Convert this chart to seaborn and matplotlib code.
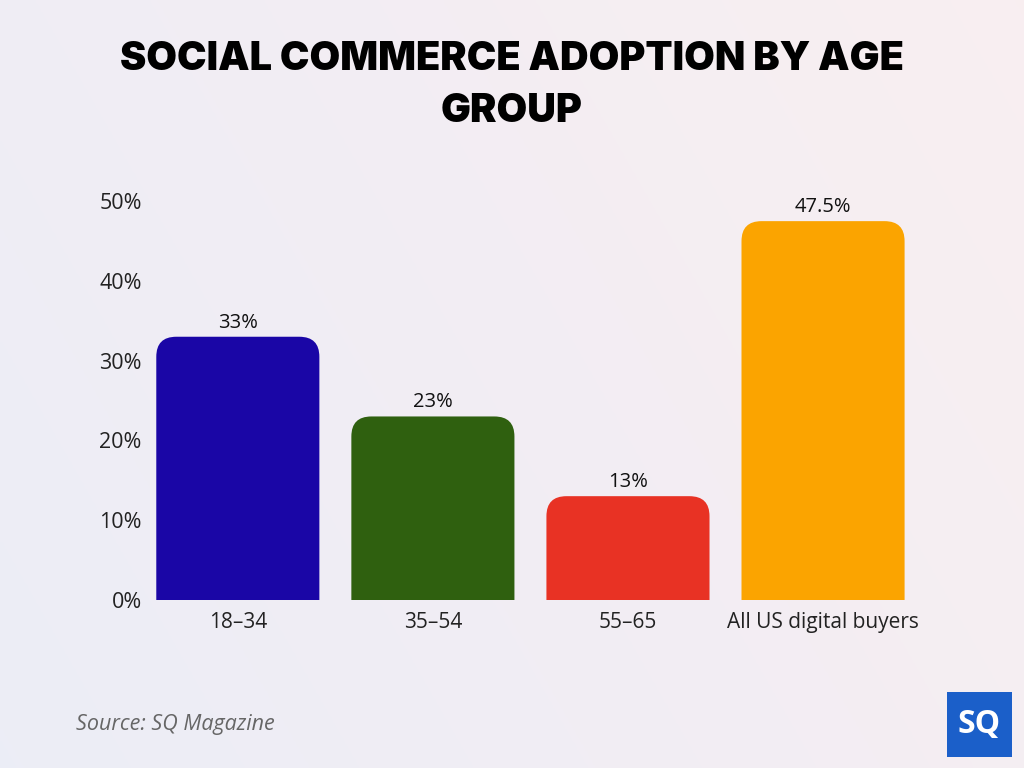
import numpy as np
import pandas as pd
import matplotlib
matplotlib.use("Agg")
import matplotlib.pyplot as plt
import seaborn as sns
from matplotlib.patches import FancyBboxPatch, Rectangle

# chart data
groups = ["18\u201334", "35\u201354", "55\u201365", "All US digital buyers"]
adoption = [33, 23, 13, 47.5]
value_labels = ["33%", "23%", "13%", "47.5%"]
bar_colors = ["#1a06a6", "#2f600f", "#e83224", "#fba400"]
y_ticks = [0, 10, 20, 30, 40, 50]

df = pd.DataFrame({"group": groups, "adoption": adoption})

sns.set_theme(style="white")
plt.rcParams["font.family"] = ["Open Sans", "DejaVu Sans"]

fig = plt.figure(figsize=(10.24, 7.68), dpi=100)

# soft background gradient
bg = fig.add_axes([0, 0, 1, 1], zorder=-10)
gx, gy = np.meshgrid(np.linspace(0, 1, 256), np.linspace(0, 1, 256))
t = (gx * 0.7 + gy * 0.3)
c1 = np.array([0.925, 0.93, 0.965])
c2 = np.array([0.975, 0.935, 0.945])
img = c1[None, None, :] * (1 - t[..., None]) + c2[None, None, :] * t[..., None]
bg.imshow(img, aspect="auto", extent=[0, 1, 0, 1], origin="lower")
bg.axis("off")

ax = fig.add_axes([0.137, 0.219, 0.762, 0.519])
ax.set_facecolor("none")
sns.barplot(data=df, x="group", y="adoption", hue="group", palette=bar_colors,
            width=0.836, legend=False, ax=ax)
ax.set_xlim(-0.5, 3.5)
ax.set_ylim(0, 50)

# swap plain bars for bars with rounded tops
ax_w_px = 0.762 * 1024
ax_h_px = 0.519 * 768
x_per_px = 4 / ax_w_px
y_per_px = 50 / ax_h_px
r_px = 20
rx = r_px * x_per_px
ry = r_px * y_per_px
for p, col in zip(list(ax.patches), bar_colors):
    x0, w, h = p.get_x(), p.get_width(), p.get_height()
    p.remove()
    fb = FancyBboxPatch((x0, -ry), w, h + ry,
                        boxstyle=f"round,pad=0,rounding_size={rx}",
                        mutation_aspect=y_per_px / x_per_px,
                        facecolor=col, edgecolor="none")
    ax.add_patch(fb)

for i, (v, lab) in enumerate(zip(adoption, value_labels)):
    ax.text(i, v + 0.5, lab, ha="center", va="bottom", fontsize=14.5, color="#111111")

ax.set_yticks(y_ticks)
ax.set_yticklabels([f"{v}%" for v in y_ticks], fontsize=15.5, color="#222222")
ax.tick_params(axis="x", labelsize=15, colors="#222222", pad=3)
ax.tick_params(axis="y", pad=-7)
ax.set_xlabel("")
ax.set_ylabel("")
sns.despine(ax=ax, left=True, bottom=True)
ax.grid(False)

title_font = ["Inter", "DejaVu Sans"]
fig.text(0.5, 0.922, "SOCIAL COMMERCE ADOPTION BY AGE", ha="center", va="center",
         fontsize=28.5, fontweight="black", family=title_font, color="#000000")
fig.text(0.5, 0.855, "GROUP", ha="center", va="center",
         fontsize=28.5, fontweight="black", family=title_font, color="#000000")

fig.text(0.074, 0.057, "Source: SQ Magazine", ha="left", va="center",
         fontsize=15.5, style="italic", color="#666666")

# logo
fig.patches.append(Rectangle((947 / 1024, 1 - 757 / 768), 65 / 1024, 65 / 768,
                             transform=fig.transFigure, facecolor="#1b5fc9",
                             edgecolor="none", zorder=5))
fig.text(979.5 / 1024, 1 - 724.5 / 768, "SQ", ha="center", va="center",
         fontsize=23, fontweight="bold", color="white", zorder=6)

fig.savefig("out.png", dpi=100)
